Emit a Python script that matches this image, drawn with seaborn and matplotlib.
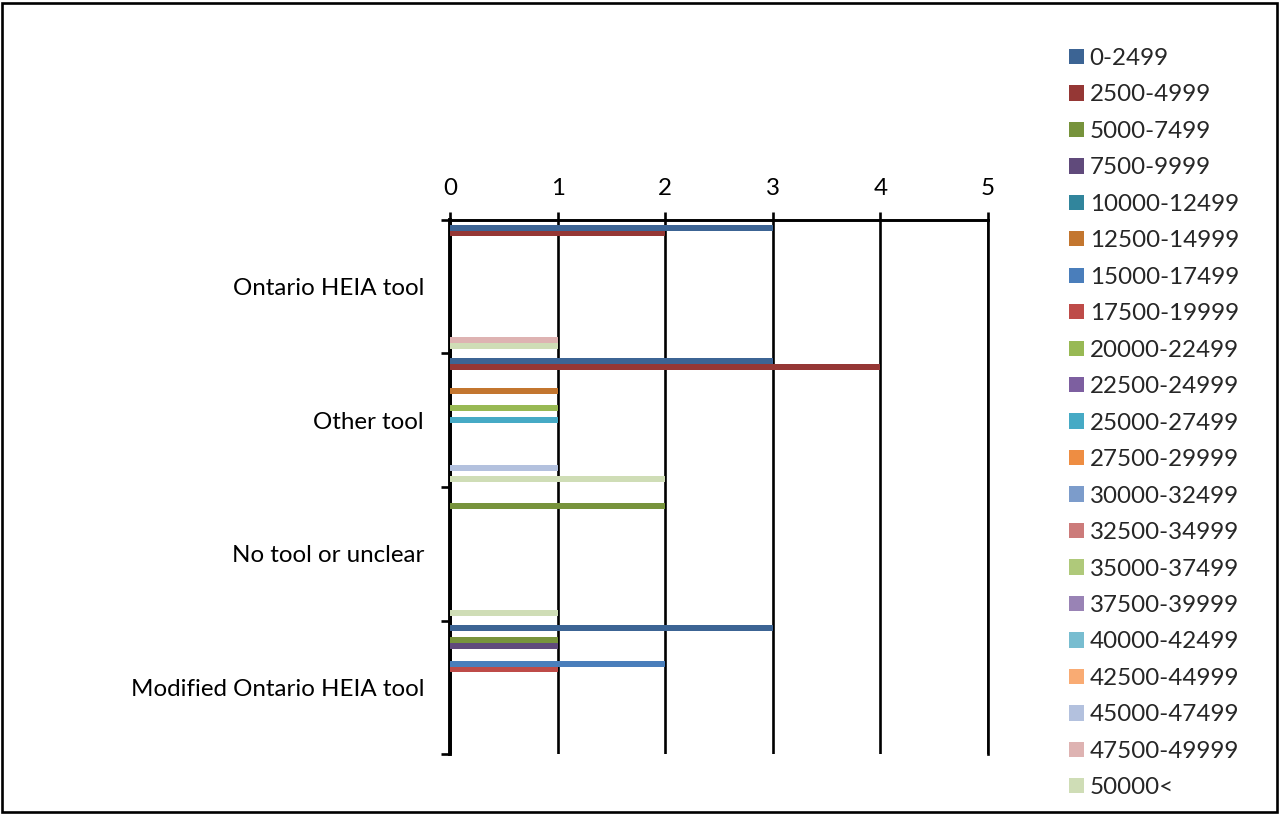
import matplotlib
matplotlib.use("Agg")
import matplotlib.pyplot as plt
from matplotlib.patches import Rectangle
import pandas as pd
import seaborn as sns

# Categories (top to bottom) and income ranges used as series
categories = ["Ontario HEIA tool", "Other tool", "No tool or unclear", "Modified Ontario HEIA tool"]
ranges = [
    "0-2499", "2500-4999", "5000-7499", "7500-9999", "10000-12499", "12500-14999",
    "15000-17499", "17500-19999", "20000-22499", "22500-24999", "25000-27499",
    "27500-29999", "30000-32499", "32500-34999", "35000-37499", "37500-39999",
    "40000-42499", "42500-44999", "45000-47499", "47500-49999", "50000<",
]

# Counts per range, in category order
v_0_2499 = [3, 3, 0, 3]
v_2500_4999 = [2, 4, 0, 0]
v_5000_7499 = [0, 0, 2, 1]
v_7500_9999 = [0, 0, 0, 1]
v_10000_12499 = [0, 0, 0, 0]
v_12500_14999 = [0, 1, 0, 0]
v_15000_17499 = [0, 0, 0, 2]
v_17500_19999 = [0, 0, 0, 1]
v_20000_22499 = [0, 1, 0, 0]
v_22500_24999 = [0, 0, 0, 0]
v_25000_27499 = [0, 1, 0, 0]
v_27500_29999 = [0, 0, 0, 0]
v_30000_32499 = [0, 0, 0, 0]
v_32500_34999 = [0, 0, 0, 0]
v_35000_37499 = [0, 0, 0, 0]
v_37500_39999 = [0, 0, 0, 0]
v_40000_42499 = [0, 0, 0, 0]
v_42500_44999 = [0, 0, 0, 0]
v_45000_47499 = [0, 1, 0, 0]
v_47500_49999 = [1, 0, 0, 0]
v_50000_up = [1, 2, 1, 0]

series_values = [
    v_0_2499, v_2500_4999, v_5000_7499, v_7500_9999, v_10000_12499, v_12500_14999,
    v_15000_17499, v_17500_19999, v_20000_22499, v_22500_24999, v_25000_27499,
    v_27500_29999, v_30000_32499, v_32500_34999, v_35000_37499, v_37500_39999,
    v_40000_42499, v_42500_44999, v_45000_47499, v_47500_49999, v_50000_up,
]

colors = [
    "#3C6494", "#953735", "#77933C", "#604A7B", "#31859C", "#C3762F",
    "#4A7EBB", "#BE4B48", "#98B954", "#7D5FA0", "#46AAC5", "#EE8D42",
    "#7C9CCB", "#CC7B7A", "#AFC97A", "#9983B5", "#78BDD0", "#F9AB73",
    "#B3C1DE", "#DEB3B2", "#CFDDB6",
]

rows = []
for rng, vals in zip(ranges, series_values):
    for cat, v in zip(categories, vals):
        rows.append({"category": cat, "range": rng, "count": v})
df = pd.DataFrame(rows)

sns.set_theme(style="white")
FONT = "Lato"
FS = 17.4
plt.rcParams["font.family"] = [FONT, "DejaVu Sans"]

fig = plt.figure(figsize=(12.8, 8.14), dpi=100)
ax = fig.add_axes([450 / 1280, 1 - 754 / 814, (988 - 450) / 1280, (754 - 220) / 814])

sns.barplot(
    data=df, x="count", y="category", hue="range", order=categories,
    hue_order=ranges, palette=colors, orient="h", width=0.93,
    linewidth=0, saturation=1, ax=ax, zorder=3,
)

ax.set_xlim(0, 5)
ax.set_ylim(3.5, -0.5)
ax.set_xlabel("")
ax.set_ylabel("")

# value axis on top
ax.xaxis.tick_top()
ax.set_xticks(range(0, 6))
ax.tick_params(axis="x", which="major", direction="out", length=5.8, width=1.9,
               color="black", labelsize=FS, pad=9.5, labelcolor="black")
ax.grid(axis="x", color="black", linewidth=1.9, zorder=1)
ax.grid(axis="y", visible=False)
ax.set_axisbelow(True)

# category axis: labels centred in bands, tick marks at band edges
ax.set_yticks(range(len(categories)))
ax.set_yticklabels(categories)
ax.set_yticks([-0.5, 0.5, 1.5, 2.5, 3.5], minor=True)
ax.tick_params(axis="y", which="major", length=0, labelsize=FS, pad=18.7, labelcolor="black")
ax.tick_params(axis="y", which="minor", left=True, direction="out", length=6.5,
               width=1.9, color="black")

for side in ["left", "top", "right", "bottom"]:
    ax.spines[side].set_color("black")
ax.spines["left"].set_linewidth(2.8)
ax.spines["top"].set_linewidth(2.1)
ax.spines["right"].set_linewidth(1.9)
ax.spines["bottom"].set_visible(False)

sns.move_legend(
    ax, "upper left", bbox_to_anchor=(1069 / 1280, 1 - 48 / 814),
    bbox_transform=fig.transFigure, frameon=False, title=None,
    fontsize=FS, handlelength=0.6, handleheight=0.6, handletextpad=0.25,
    labelspacing=0.64, borderpad=0, borderaxespad=0,
)

fig.patches.append(Rectangle((2 / 1280, 2 / 814), 1275 / 1280, 809 / 814,
                             transform=fig.transFigure, fill=False,
                             edgecolor="black", linewidth=1.9))

fig.savefig("out.png", dpi=100)
